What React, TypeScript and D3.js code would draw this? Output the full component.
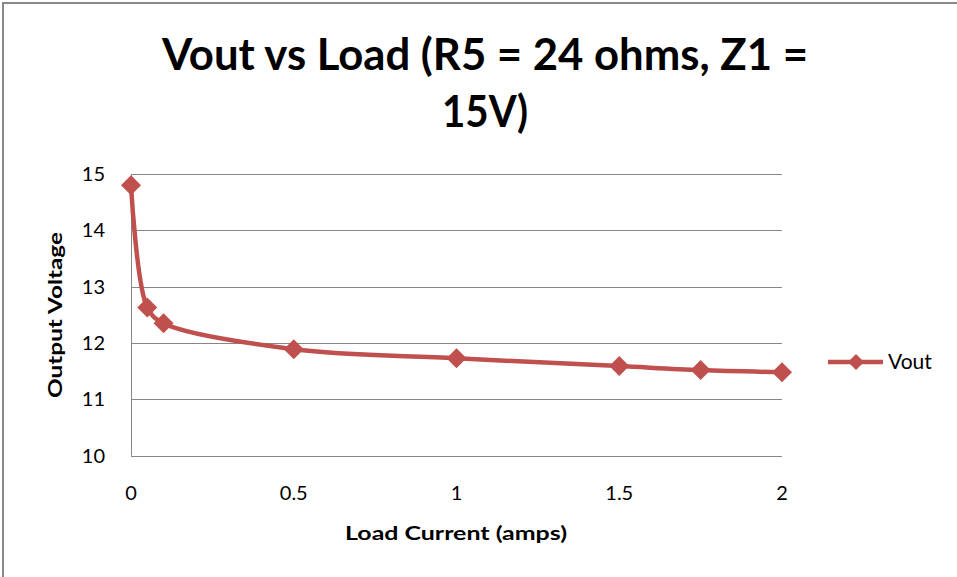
import React from "react";
import * as d3 from "d3";

const loadCurrent = [0, 0.05, 0.1, 0.5, 1, 1.5, 1.75, 2];
const vout = [14.8, 12.63, 12.35, 11.89, 11.73, 11.59, 11.52, 11.48];
const xTicks = [0, 0.5, 1, 1.5, 2];
const yTicks = [10, 11, 12, 13, 14, 15];
const titleLines = ["Vout vs Load (R5 = 24 ohms, Z1 =", "15V)"];
const seriesName = "Vout";
const xTitle = "Load Current (amps)";
const yTitle = "Output Voltage";

const W = 957;
const H = 577;
const color = "#C0504D";
const font = "Lato, 'Open Sans', sans-serif";

export default function App() {
  const x = d3.scaleLinear().domain([0, 2]).range([131, 782]);
  const y = d3.scaleLinear().domain([10, 15]).range([455.7, 174]);
  const pts: [number, number][] = loadCurrent.map((d, i) => [x(d), y(vout[i])]);
  const line = d3.line().curve(d3.curveCatmullRom.alpha(0.5))(pts) || "";
  const diamond = (cx: number, cy: number, r: number) =>
    `M${cx},${cy - r}L${cx + r},${cy}L${cx},${cy + r}L${cx - r},${cy}Z`;

  return (
    <svg width={W} height={H} style={{ position: "absolute", left: 0, top: 0 }} fontFamily={font}>
      <rect x={0} y={0} width={W} height={H} fill="#fff" />
      <rect x={3} y={3} width={W + 20} height={H + 20} fill="#fff" stroke="#888" strokeWidth={2} />
      <text x={485} y={70} textAnchor="middle" fontSize={43} fontWeight="bold" fill="#000"
        textLength={646} lengthAdjust="spacingAndGlyphs">{titleLines[0]}</text>
      <text x={485} y={127} textAnchor="middle" fontSize={43} fontWeight="bold" fill="#000"
        textLength={86} lengthAdjust="spacingAndGlyphs">{titleLines[1]}</text>
      {yTicks.slice(1).map((t) => (
        <line key={t} x1={x(0)} x2={x(2)} y1={Math.round(y(t)) + 0.5} y2={Math.round(y(t)) + 0.5} stroke="#868686" strokeWidth={1} />
      ))}
      <line x1={Math.round(x(0)) + 0.5} x2={Math.round(x(0)) + 0.5} y1={y(15)} y2={y(10)} stroke="#868686" />
      <line x1={x(0)} x2={x(2)} y1={Math.round(y(10)) + 0.5} y2={Math.round(y(10)) + 0.5} stroke="#868686" />
      {yTicks.map((t) => (
        <text key={t} x={105} y={y(t) + 7} textAnchor="end" fontSize={20} fill="#000">{t}</text>
      ))}
      {xTicks.map((t) => (
        <text key={t} x={x(t)} y={500} textAnchor="middle" fontSize={20} fill="#000">{t}</text>
      ))}
      <text x={456} y={540} textAnchor="middle" fontSize={19} fontWeight="bold" fill="#000"
        textLength={222} lengthAdjust="spacingAndGlyphs">{xTitle}</text>
      <text transform={`translate(62,315) rotate(-90)`} textAnchor="middle" fontSize={19} fontWeight="bold" fill="#000"
        textLength={166} lengthAdjust="spacingAndGlyphs">{yTitle}</text>
      <path d={line} fill="none" stroke={color} strokeWidth={4.5} strokeLinejoin="round" />
      {pts.map(([cx, cy], i) => (
        <path key={i} d={diamond(cx, cy, 10)} fill={color} />
      ))}
      <line x1={828} x2={883} y1={362} y2={362} stroke={color} strokeWidth={4.5} />
      <path d={diamond(856, 362, 8)} fill={color} />
      <text x={888} y={369} fontSize={21} fill="#000">{seriesName}</text>
    </svg>
  );
}
